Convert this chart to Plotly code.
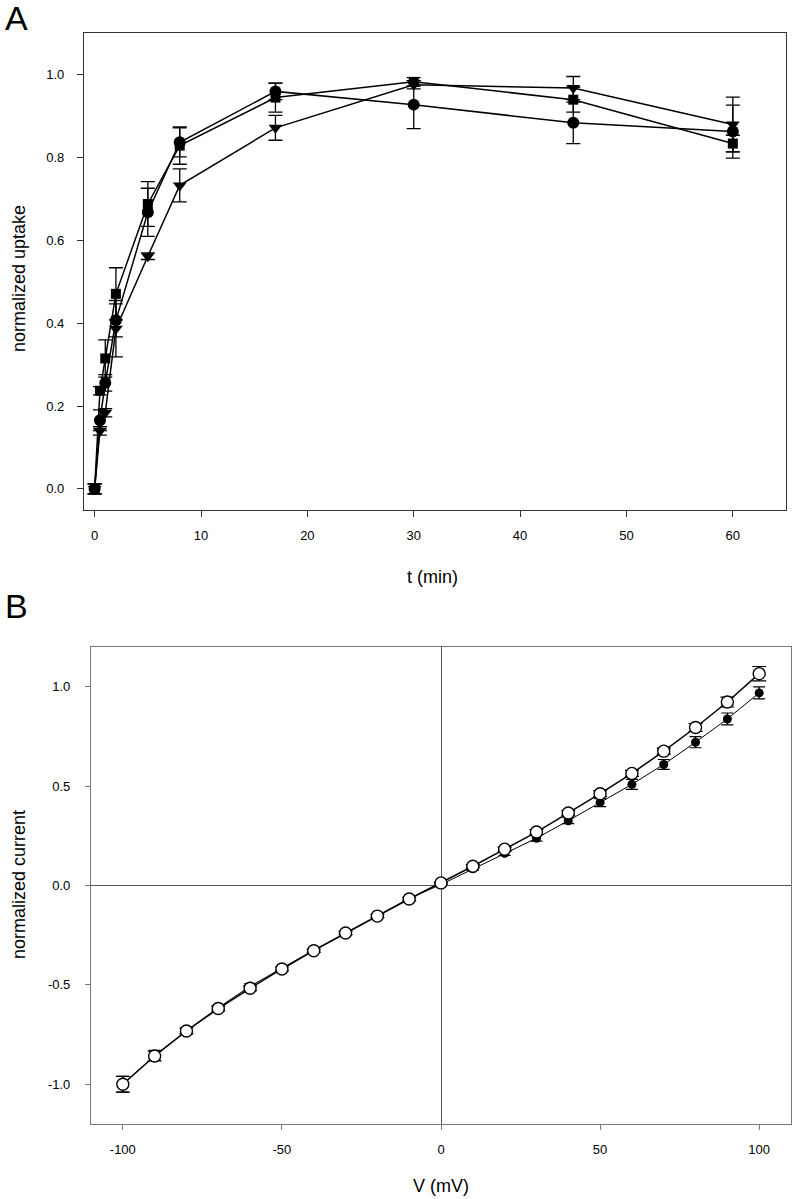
import plotly.graph_objects as go

# ---------------- Panel A data ----------------
t_min = [0, 0.5, 1, 2, 5, 8, 17, 30, 45, 60]
uptake_square = [0.0, 0.237, 0.315, 0.471, 0.688, 0.829, 0.945, 0.983, 0.940, 0.834]
err_square = [0.012, 0.010, 0.045, 0.063, 0.054, 0.045, 0.035, 0.010, 0.030, 0.020]
uptake_circle = [0.0, 0.166, 0.256, 0.407, 0.668, 0.837, 0.960, 0.928, 0.884, 0.863]
err_circle = [0.012, 0.025, 0.020, 0.040, 0.058, 0.035, 0.020, 0.058, 0.050, 0.064]
uptake_tri = [0.0, 0.140, 0.184, 0.387, 0.562, 0.733, 0.872, 0.976, 0.968, 0.880]
err_tri = [0.012, 0.010, 0.010, 0.068, 0.008, 0.040, 0.030, 0.010, 0.028, 0.066]

# ---------------- Panel B data ----------------
volt = [-100, -90, -80, -70, -60, -50, -40, -30, -20, -10, 0,
        10, 20, 30, 40, 50, 60, 70, 80, 90, 100]
cur_open = [-1.000, -0.858, -0.732, -0.619, -0.517, -0.420, -0.328, -0.239, -0.154, -0.068, 0.013,
            0.097, 0.183, 0.269, 0.365, 0.462, 0.564, 0.676, 0.795, 0.923, 1.066]
err_open = [0.040, 0.025, 0.015, 0.012, 0.012, 0.010, 0.008, 0.008, 0.008, 0.008, 0.005,
            0.008, 0.010, 0.012, 0.012, 0.015, 0.015, 0.015, 0.020, 0.025, 0.036]
cur_filled = [-1.000, -0.855, -0.730, -0.615, -0.507, -0.415, -0.325, -0.238, -0.150, -0.065, 0.005,
              0.084, 0.162, 0.238, 0.326, 0.417, 0.509, 0.609, 0.721, 0.838, 0.969]
err_filled = [0.040, 0.025, 0.015, 0.012, 0.012, 0.010, 0.008, 0.008, 0.008, 0.008, 0.005,
              0.008, 0.010, 0.015, 0.015, 0.020, 0.025, 0.025, 0.028, 0.030, 0.030]

A_xticks = [0, 10, 20, 30, 40, 50, 60]
A_yticks = [0.0, 0.2, 0.4, 0.6, 0.8, 1.0]
A_ylabels = ["0.0", "0.2", "0.4", "0.6", "0.8", "1.0"]
B_xticks = [-100, -50, 0, 50, 100]
B_xlabels = ["-100", "-50", "0", "50", "100"]
B_yticks = [-1.0, -0.5, 0.0, 0.5, 1.0]
B_ylabels = ["-1.0", "-0.5", "0.0", "0.5", "1.0"]

W, H = 793, 1199
FONT = "Liberation Sans, Arial, sans-serif"


def px(xs):
    return xs / W


def py(ys):
    return 1 - ys / H


fig = go.Figure()


def err(arr, w=7, th=1.3, color="black"):
    return dict(type="data", array=arr, visible=True, width=w, thickness=th, color=color)


# Panel A traces
for y, e, sym, sz in [(uptake_tri, err_tri, "triangle-down", 12),
                      (uptake_square, err_square, "square", 10),
                      (uptake_circle, err_circle, "circle", 12)]:
    fig.add_trace(go.Scatter(
        x=t_min, y=y, mode="lines+markers", xaxis="x", yaxis="y",
        line=dict(color="black", width=1.5),
        marker=dict(symbol=sym, size=sz, color="black", line=dict(width=0)),
        error_y=err(e), showlegend=False))

# Panel B traces
fig.add_trace(go.Scatter(
    x=volt, y=cur_filled, mode="lines+markers", xaxis="x2", yaxis="y2",
    line=dict(color="black", width=1),
    marker=dict(symbol="circle", size=9, color="black", line=dict(width=0)),
    error_y=err(err_filled, w=6, th=1.2), showlegend=False))
fig.add_trace(go.Scatter(
    x=volt, y=cur_open, mode="lines+markers", xaxis="x2", yaxis="y2",
    line=dict(color="black", width=1.5),
    marker=dict(symbol="circle", size=12, color="white", line=dict(width=1.4, color="black")),
    error_y=err(err_open, w=7, th=1.2), showlegend=False))

axA = dict(showline=True, mirror=True, linecolor="#333", linewidth=1.2,
           ticks="outside", ticklen=6, tickcolor="#333", tickwidth=1.2,
           showgrid=False, zeroline=False,
           tickfont=dict(family=FONT, size=13, color="black"))
axB = dict(showline=True, mirror=True, linecolor="#777", linewidth=1.2,
           ticks="outside", ticklen=5, tickcolor="#777", tickwidth=1,
           showgrid=False,
           tickfont=dict(family=FONT, size=13, color="black"))

fig.update_layout(
    width=W, height=H,
    margin=dict(l=0, r=0, t=0, b=0),
    paper_bgcolor="white", plot_bgcolor="white",
    font=dict(family=FONT, color="black"),
    xaxis=dict(axA, domain=[px(84), px(786)], range=[-1, 65], tickvals=A_xticks,
               ticklabelstandoff=7, anchor="y"),
    yaxis=dict(axA, domain=[py(510), py(33)], range=[-0.051, 1.101],
               tickvals=A_yticks, ticktext=A_ylabels, ticklabelstandoff=10, anchor="x"),
    xaxis2=dict(axB, domain=[px(91), px(791)], range=[-110, 110],
                tickvals=B_xticks, ticktext=B_xlabels, ticklabelstandoff=8,
                zeroline=True, zerolinecolor="#555", zerolinewidth=1, anchor="y2"),
    yaxis2=dict(axB, domain=[py(1124), py(647)], range=[-1.2, 1.2],
                tickvals=B_yticks, ticktext=B_ylabels, ticklabelstandoff=12,
                zeroline=True, zerolinecolor="#555", zerolinewidth=1, anchor="x2"),
)


def ann(text, x, y, size, angle=0):
    fig.add_annotation(text=text, x=px(x), y=py(y), xref="paper", yref="paper",
                       showarrow=False, textangle=angle, xanchor="center", yanchor="middle",
                       font=dict(family=FONT, size=size, color="black"))


ann("A", 16, 18, 34)
ann("B", 16, 606, 34)
ann("normalized uptake", 19, 279, 18, -90)
ann("t (min)", 432, 577, 18)
ann("normalized current", 19, 885, 18, -90)
ann("V (mV)", 441, 1186, 18)

# remove the default page margin so the figure fills the window exactly
fig.write_html("out.html",
               config={"displayModeBar": False},
               post_script="document.body.style.margin='0';document.body.style.overflow='hidden';")
